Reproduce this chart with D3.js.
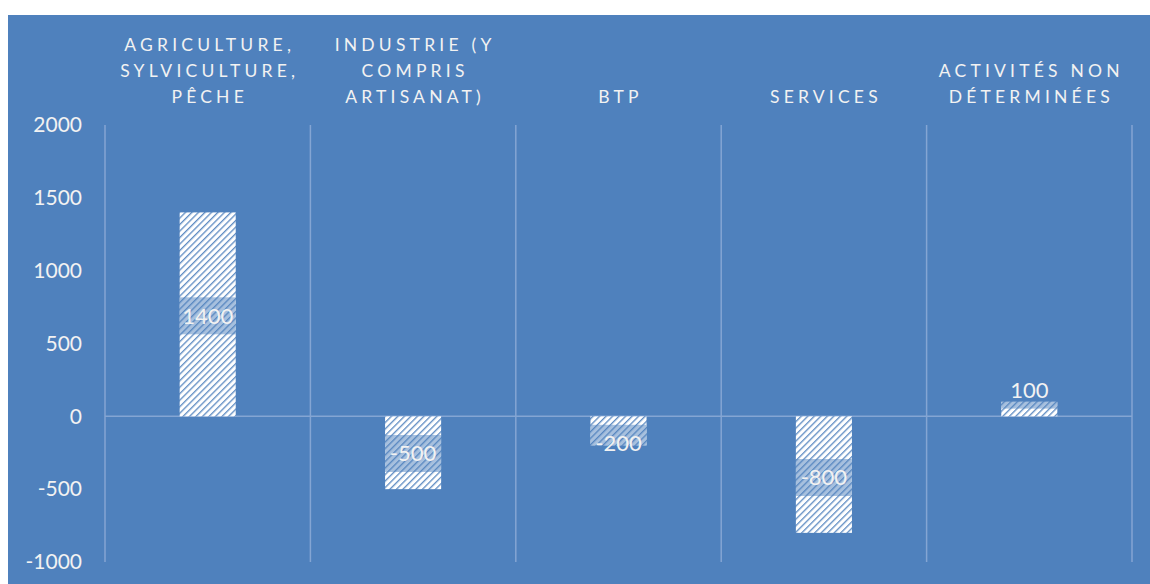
<!DOCTYPE html>
<html>
<head>
<meta charset="utf-8">
<script src="https://cdn.jsdelivr.net/npm/d3@7"></script>
<style>
  body { margin: 0; background: #fff; }
  text { font-family: Lato, "Open Sans", sans-serif; }
</style>
</head>
<body>
<div id="chart"></div>
<script>
// Chart data
const categories = ["Agriculture, sylviculture, pêche", "Industrie (y compris artisanat)", "BTP", "Services", "Activités non déterminées"];
const catLines = [
  ["AGRICULTURE,", "SYLVICULTURE,", "PÊCHE"],
  ["INDUSTRIE (Y", "COMPRIS", "ARTISANAT)"],
  ["BTP"],
  ["SERVICES"],
  ["ACTIVITÉS NON", "DÉTERMINÉES"]
];
const values = [1400, -500, -200, -800, 100];
// where Excel placed each data label (in value units)
const labelAt = [690, -255, -185, -420, 180];
const yTicks = [-1000, -500, 0, 500, 1000, 1500, 2000];

const width = 1150, height = 584;
const margin = { top: 125, right: 18, bottom: 22, left: 105 };
const blue = "#4f81bd";
const gridColor = "#84a5d3";
const textColor = "#f2f2f2";

const svg = d3.select("#chart")
  .append("svg")
  .attr("width", width)
  .attr("height", height);

// hatch pattern
const defs = svg.append("defs");
const pat = defs.append("pattern")
  .attr("id", "hatch")
  .attr("patternUnits", "userSpaceOnUse")
  .attr("width", 4.6)
  .attr("height", 4.6)
  .attr("patternTransform", "rotate(45)");
pat.append("rect").attr("width", 4.6).attr("height", 4.6).attr("fill", "#fff");
pat.append("line")
  .attr("x1", 0.7).attr("y1", 0).attr("x2", 0.7).attr("y2", 4.6)
  .attr("stroke", blue).attr("stroke-width", 1.2);

// background
svg.append("rect")
  .attr("x", 8).attr("y", 15)
  .attr("width", width - 8).attr("height", height - 15)
  .attr("fill", blue);

// Scales
const x = d3.scaleBand()
  .domain(categories)
  .range([margin.left, width - margin.right])
  .padding(0);

const y = d3.scaleLinear()
  .domain([-1000, 2000])
  .range([height - margin.bottom, margin.top]);

// vertical grid lines at category boundaries
const bounds = categories.map(c => x(c)).concat([x.range()[1]]);
svg.append("g")
  .selectAll("line")
  .data(bounds)
  .join("line")
  .attr("x1", d => d).attr("x2", d => d)
  .attr("y1", y(2000)).attr("y2", y(-1000))
  .attr("stroke", gridColor)
  .attr("stroke-width", 1.5);

// zero line
svg.append("line")
  .attr("x1", x.range()[0]).attr("x2", x.range()[1])
  .attr("y1", y(0)).attr("y2", y(0))
  .attr("stroke", gridColor)
  .attr("stroke-width", 1.5);

// Y axis
const yAxis = svg.append("g")
  .attr("transform", `translate(82,0)`)
  .call(d3.axisLeft(y).tickValues(yTicks).tickFormat(d => String(d)).tickSize(0).tickPadding(0));
yAxis.select(".domain").remove();
yAxis.selectAll("text")
  .attr("fill", textColor)
  .style("font-size", "21px")
  .style("font-family", "Lato, sans-serif");

// category labels on top
const barW = x.bandwidth() * 0.273;
const catG = svg.append("g");
catLines.forEach((lines, i) => {
  const cx = x(categories[i]) + x.bandwidth() / 2;
  const t = catG.append("text")
    .attr("text-anchor", "middle")
    .attr("fill", textColor)
    .style("font-size", "17.5px")
    .style("letter-spacing", "4.2px");
  lines.forEach((l, j) => {
    t.append("tspan")
      .attr("x", cx + 2)
      .attr("y", 103 - (lines.length - 1 - j) * 26)
      .text(l);
  });
});

// Bars
const bars = svg.append("g");
bars.selectAll("rect")
  .data(values)
  .join("rect")
  .attr("x", (d, i) => x(categories[i]) + (x.bandwidth() - barW) / 2)
  .attr("y", d => y(Math.max(0, d)))
  .attr("width", barW)
  .attr("height", d => Math.abs(y(d) - y(0)))
  .attr("fill", "url(#hatch)");

// label boxes (translucent, clipped to bar)
values.forEach((v, i) => {
  defs.append("clipPath")
    .attr("id", "clip" + i)
    .append("rect")
    .attr("x", x(categories[i]) + (x.bandwidth() - barW) / 2)
    .attr("y", y(Math.max(0, v)))
    .attr("width", barW)
    .attr("height", Math.abs(y(v) - y(0)));
});
svg.append("g")
  .selectAll("rect")
  .data(labelAt)
  .join("rect")
  .attr("clip-path", (d, i) => `url(#clip${i})`)
  .attr("x", (d, i) => x(categories[i]) + (x.bandwidth() - barW) / 2)
  .attr("y", d => y(d) - 18.5)
  .attr("width", barW)
  .attr("height", 37)
  .attr("fill", blue)
  .attr("opacity", 0.5);

// data labels
svg.append("g")
  .selectAll("text")
  .data(values)
  .join("text")
  .attr("x", (d, i) => x(categories[i]) + x.bandwidth() / 2)
  .attr("y", (d, i) => y(labelAt[i]))
  .attr("dy", "0.36em")
  .attr("text-anchor", "middle")
  .attr("fill", textColor)
  .style("font-size", "22px")
  .text(d => d);
</script>
</body>
</html>
